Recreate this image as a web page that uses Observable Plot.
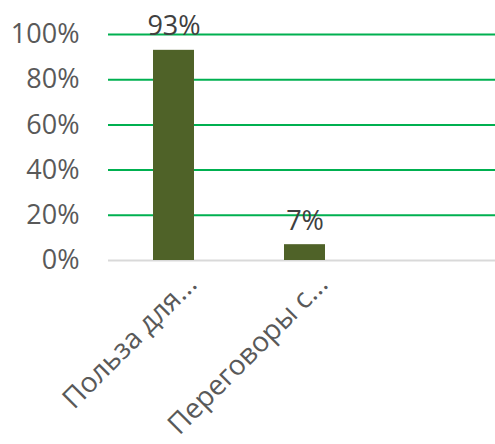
<!DOCTYPE html>
<html>
<head>
<meta charset="utf-8">
<script src="https://cdn.jsdelivr.net/npm/d3@7"></script>
<script src="https://cdn.jsdelivr.net/npm/@observablehq/plot@0.6"></script>
<style>
  html, body { margin: 0; padding: 0; background: #fff; }
  #chart svg { display: block; }
</style>
</head>
<body>
<div id="chart"></div>
<script>
const categories = ["Польза для...", "Переговоры с...", ""];
const values = [0.93, 0.07, null];
const labels = ["93%", "7%", ""];
const yTicks = [0, 0.2, 0.4, 0.6, 0.8, 1.0];

const data = categories.map((c, i) => ({cat: c, value: values[i], label: labels[i]}));
const barData = data.filter(d => d.value != null);
const font = "'Open Sans', sans-serif";

const chart = Plot.plot({
  width: 495,
  height: 444,
  marginLeft: 108,
  marginRight: -6,
  marginTop: 34,
  marginBottom: 184,
  style: {fontFamily: font, background: "#fff"},
  x: {domain: categories, paddingInner: 0.69, paddingOuter: 0.345, axis: null},
  y: {domain: [0, 1], axis: null},
  marks: [
    Plot.ruleY(yTicks.filter(t => t > 0), {stroke: "#00B050", strokeWidth: 2}),
    Plot.ruleY([0], {stroke: "#D9D9D9", strokeWidth: 2}),
    Plot.barY(barData, {x: "cat", y: "value", fill: "#4F6228"}),
    Plot.text(barData, {x: "cat", y: "value", text: "label", lineAnchor: "bottom", dy: -15, fontSize: 27, fill: "#404040"}),
    Plot.axisY({ticks: yTicks, tickFormat: d3.format(".0%"), tickSize: 0, tickPadding: 29, fontSize: 27, color: "#595959", label: null}),
    Plot.text(barData, {x: "cat", y: () => 0, text: "cat", rotate: -45, textAnchor: "end", lineAnchor: "middle", dx: 18, dy: 19, fontSize: 28, fill: "#595959"})
  ]
});
document.getElementById("chart").appendChild(chart);
</script>
</body>
</html>
